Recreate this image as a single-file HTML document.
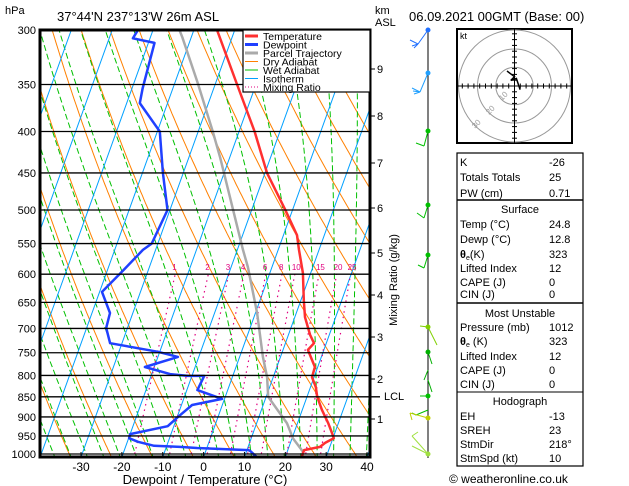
<!DOCTYPE html>
<html><head><meta charset="utf-8"><style>
body{margin:0;background:#fff;}
svg{display:block;font-family:"Liberation Sans",sans-serif;}
text{fill:#000;}
</style></head><body>
<svg id="c" width="629" height="486" viewBox="0 0 629 486" xmlns="http://www.w3.org/2000/svg">
<defs><clipPath id="pc"><rect x="40" y="30" width="330" height="427"/></clipPath>
<clipPath id="hc"><rect x="457" y="29" width="115" height="114"/></clipPath></defs>
<rect width="629" height="486" fill="#fff"/>
<g id="bg" clip-path="url(#pc)"></g>
<g id="series" clip-path="url(#pc)"></g>
<g id="frame"></g>
<text x="5" y="14" font-size="11">hPa</text>
<text x="57" y="21" font-size="13">37°44'N  237°13'W  26m  ASL</text>
<text x="375" y="14" font-size="11">km</text>
<text x="375" y="26" font-size="11">ASL</text>
<text x="409" y="21" font-size="13">06.09.2021  00GMT  (Base: 00)</text>
<text x="205" y="484" font-size="13" text-anchor="middle">Dewpoint / Temperature (°C)</text>
<text transform="translate(397,280) rotate(-90)" font-size="11" text-anchor="middle">Mixing Ratio (g/kg)</text>
<g>
<rect x="243" y="30" width="127" height="62" fill="#fff" stroke="#000" stroke-width="1.2"/>
<line x1="245" y1="36" x2="258" y2="36" stroke="#ff3030" stroke-width="3"/><text x="263" y="40" font-size="10.5">Temperature</text>
<line x1="245" y1="44.5" x2="258" y2="44.5" stroke="#2040ff" stroke-width="3"/><text x="263" y="48.5" font-size="10.5">Dewpoint</text>
<line x1="245" y1="53" x2="258" y2="53" stroke="#aaa" stroke-width="3"/><text x="263" y="57" font-size="10.5">Parcel Trajectory</text>
<line x1="245" y1="61.5" x2="258" y2="61.5" stroke="#ff8000" stroke-width="1"/><text x="263" y="65.5" font-size="10.5">Dry Adiabat</text>
<line x1="245" y1="70" x2="258" y2="70" stroke="#00c000" stroke-width="1"/><text x="263" y="74" font-size="10.5">Wet Adiabat</text>
<line x1="245" y1="78.5" x2="258" y2="78.5" stroke="#00a0ff" stroke-width="1"/><text x="263" y="82.5" font-size="10.5">Isotherm</text>
<line x1="245" y1="87" x2="258" y2="87" stroke="#e0007f" stroke-width="1" stroke-dasharray="1,2"/><text x="263" y="91" font-size="10.5">Mixing Ratio</text>
</g>
<g id="winds"></g>
<g>
<rect x="457" y="29" width="115" height="114" fill="#fff" stroke="#000" stroke-width="2"/>
<g clip-path="url(#hc)" fill="none" stroke="#999">
<circle cx="514.5" cy="86" r="18.7"/><circle cx="514.5" cy="86" r="37"/><circle cx="514.5" cy="86" r="56"/>
</g>
<g id="hticks" stroke="#000" stroke-width="1"></g>
<text x="460" y="39" font-size="9">kt</text>
<text transform="translate(502,101) rotate(-45)" font-size="8" style="fill:#999">10</text>
<text transform="translate(489,115) rotate(-45)" font-size="8" style="fill:#999">20</text>
<text transform="translate(475,129) rotate(-45)" font-size="8" style="fill:#999">30</text>
<polyline id="hodo" fill="none" stroke="#000" stroke-width="1.5" points=""/>
</g>
<g font-size="11">
<rect x="457" y="153" width="126" height="313" fill="none" stroke="#000" stroke-width="1.2"/>
<line x1="457" y1="200" x2="583" y2="200" stroke="#000" stroke-width="1.5"/>
<line x1="457" y1="303" x2="583" y2="303" stroke="#000" stroke-width="1.5"/>
<line x1="457" y1="392" x2="583" y2="392" stroke="#000"/>
<text x="460" y="166">K</text><text x="549" y="166">-26</text>
<text x="460" y="181">Totals Totals</text><text x="549" y="181">25</text>
<text x="460" y="197">PW (cm)</text><text x="549" y="197">0.71</text>
<text x="520" y="213" text-anchor="middle">Surface</text>
<text x="460" y="228">Temp (°C)</text><text x="549" y="228">24.8</text>
<text x="460" y="243">Dewp (°C)</text><text x="549" y="243">12.8</text>
<text x="460" y="258"><tspan font-weight="bold">θ</tspan><tspan font-size="7" dy="2">e</tspan><tspan dy="-2">(K)</tspan></text><text x="549" y="258">323</text>
<text x="460" y="272">Lifted Index</text><text x="549" y="272">12</text>
<text x="460" y="286">CAPE (J)</text><text x="549" y="286">0</text>
<text x="460" y="298">CIN (J)</text><text x="549" y="298">0</text>
<text x="520" y="317" text-anchor="middle">Most Unstable</text>
<text x="460" y="331">Pressure (mb)</text><text x="549" y="331">1012</text>
<text x="460" y="345"><tspan font-weight="bold">θ</tspan><tspan font-size="7" dy="2">e</tspan><tspan dy="-2"> (K)</tspan></text><text x="549" y="345">323</text>
<text x="460" y="360">Lifted Index</text><text x="549" y="360">12</text>
<text x="460" y="374">CAPE (J)</text><text x="549" y="374">0</text>
<text x="460" y="388">CIN (J)</text><text x="549" y="388">0</text>
<text x="520" y="405" text-anchor="middle">Hodograph</text>
<text x="460" y="420">EH</text><text x="549" y="420">-13</text>
<text x="460" y="434">SREH</text><text x="549" y="434">23</text>
<text x="460" y="448">StmDir</text><text x="549" y="448">218°</text>
<text x="460" y="462">StmSpd (kt)</text><text x="549" y="462">10</text>
</g>
<text x="449" y="483" font-size="12">© weatheronline.co.uk</text>
</svg>
<script>
const pressures=[300,350,400,450,500,550,600,650,700,750,800,850,900,950,1000];
const tempTicks=[-30,-20,-10,0,10,20,30,40];
const tempP=[1010,989,980,969,956,942,916,882,850,827,804,781,744,730,713,678,646,598,560,537,499,450,400,349,300];
const tempT=[24,24,27.6,28.5,30.2,29.3,27.5,24.8,22.5,21.3,19.5,19.3,16.1,17,15.3,12.5,10.7,8.1,5.1,3.3,-1.9,-9.5,-16.2,-24.8,-34.3];
const dewP=[1010,991,989,986,983,980,977,966,956,945,924,900,870,855,834,801,801,797,781,759,748,730,699,670,631,596,560,550,500,450,400,369,354,311,307,300];
const dewT=[13.2,10.8,10.3,3.5,-2.4,-6.7,-13.1,-17.4,-19.9,-20,-11.5,-9.8,-7.4,-0.6,-7.4,-7,-11,-15.5,-22.3,-15.1,-20.4,-32.9,-35.2,-35.6,-39.4,-36.3,-33.1,-31.5,-30.6,-35,-39.4,-46.8,-47.4,-48.5,-54.2,-53.7];
const parcelP=[1010,994,956,916,850,804,759,670,588,560,431,401,349,306,300];
const parcelT=[24,23.9,20.2,17.4,10.5,8.5,5.7,0.4,-5.9,-8.6,-22.3,-26.3,-34.3,-42.2,-43.5];
const kmLabels=["9","8","7","6","5","4","3","2","1"];
const kmY=[69,116,163,208,253,295,337,379,419];
const mixRatios=[1,2,3,4,6,8,10,15,20,25];
const hodoU=[-4,0,-2,1,3];
const hodoV=[8,5,3,4,-2];

const NS="http://www.w3.org/2000/svg";
function yP(p){return 454-352*Math.log(1000/p);}
function xT(T,p){return 203.6+4.086*T+0.36*(457-yP(p));}
function mk(tag,attrs,parent){const e=document.createElementNS(NS,tag);for(const k in attrs)e.setAttribute(k,attrs[k]);parent.appendChild(e);return e;}
const bg=document.getElementById('bg'),ser=document.getElementById('series'),fr=document.getElementById('frame');
function pathFrom(ps,fn){return ps.map((p,i)=>(i?'L':'M')+xT(fn(p,i),p).toFixed(1)+','+yP(p).toFixed(1)).join('');}
const plev=[];for(let p=1015;p>=295;p-=5)plev.push(p);
for(let th=240;th<=480;th+=10){const e=mk('path',{d:pathFrom(plev,p=>th*Math.pow(p/1000,0.2857)-273.15),fill:'none',stroke:'#ff8000','stroke-width':1},bg);

}
function es(t){return 6.112*Math.exp(17.67*t/(t+243.5));}
for(let t0=-36;t0<=44;t0+=4){let T=t0+273.15;let p=1015;const d=[];
 while(p>=295){d.push([p,T-273.15]);const e=es(T-273.15),rs=0.622*e/(p-e);
 const dTdp=(1/p)*(287*T+2.5e6*rs)/(1005+2.5e6*2.5e6*rs*0.622/(287*T*T));T-=dTdp*5;p-=5;}
 const e=mk('path',{d:d.map((q,i)=>(i?'L':'M')+xT(q[1],q[0]).toFixed(1)+','+yP(q[0]).toFixed(1)).join(''),fill:'none',stroke:'#00c000','stroke-width':1,'stroke-dasharray':'6,3'},bg);
 
 }
for(let t=-120;t<=50;t+=10){const e=mk('line',{x1:xT(t,1015),y1:yP(1015),x2:xT(t,290),y2:yP(290),stroke:'#00a0ff','stroke-width':1},bg);

}
const mp=[];for(let p=1015;p>=600;p-=5)mp.push(p);
function tdw(w,p){const e=w*p/(622+w);const l=Math.log(e/6.112);return 243.5*l/(17.67-l);}
mixRatios.forEach(w=>{const e=mk('path',{d:pathFrom(mp,p=>tdw(w,p)),fill:'none',stroke:'#e0007f','stroke-width':1.2,'stroke-dasharray':'1.5,4'},bg);


const t=mk('text',{x:xT(tdw(w,600),600)-3,y:270,'font-size':8,style:'fill:#e0007f'},fr);t.textContent=w;

});
pressures.forEach(p=>{const l=mk('line',{x1:40,y1:yP(p),x2:p==850?380:370,y2:yP(p),stroke:'#000','stroke-width':1.3},fr);


const t=mk('text',{x:36,y:yP(p)+4,'font-size':11,'text-anchor':'end'},fr);t.textContent=p;

});
tempTicks.forEach(T=>{const x=203.6+4.086*T;const t=mk('text',{x:x,y:471,'font-size':12,'text-anchor':'middle'},fr);t.textContent=T;


mk('line',{x1:x,y1:452,x2:x,y2:457,stroke:'#000'},fr);});
function series(P,T,color,w,name){const e=mk('path',{d:pathFrom(P,(p,i)=>T[i]),fill:'none',stroke:color,'stroke-width':w,'stroke-linejoin':'round'},ser);

}
series(parcelP,parcelT,'#aaa',2.5,'parcel-trajectory');
series(dewP,dewT,'#2040ff',2.5,'dewpoint-line');
series(tempP,tempT,'#ff3030',2.5,'temperature-line');
mk('rect',{x:40,y:30,width:330,height:427,fill:'none',stroke:'#000','stroke-width':3},fr);
kmLabels.forEach((k,i)=>{mk('line',{x1:370,y1:kmY[i],x2:375,y2:kmY[i],stroke:'#000'},fr);
const t=mk('text',{x:377,y:kmY[i]+4,'font-size':11},fr);t.textContent=k;

});
const lcl=mk('text',{x:384,y:400,'font-size':11},fr);lcl.textContent='LCL';


const wg=document.getElementById('winds');
mk('line',{x1:428,y1:30,x2:428,y2:458,stroke:'#000','stroke-width':1},wg);
const barbs=[[30,'#2070ff',[[428,30,418,44],[418,44,410,40],[418,44,412,46],[418,44,414,48]]],[73,'#20a0ff',[[428,73,420,92],[420,92,412,88],[420,92,413,91],[420,92,414,94]]],[131,'#00c000',[[428,131,424,146],[424,146,416,143]]],[205,'#00c000',[[428,205,424,218],[424,218,417,213]]],[255,'#00c000',[[428,255,424,268],[424,268,418,265]]],[327,'#80d000',[[428,327,420,326],[428,327,437,345]]],[352,'#00b000',[[428,352,432,364],[428,370,424,380],[428,380,432,392]]],[396,'#00c000',[[428,396,420,396],[428,410,416,415],[416,415,412,413]]],[418,'#c0d000',[[428,418,410,413],[410,413,412,420]]],[454,'#a0e040',[[428,454,412,436],[412,436,418,432],[428,454,412,446]]]];
barbs.forEach(b=>{const g=mk('g',{stroke:b[1],'stroke-width':1,fill:b[1]},wg);


mk('circle',{cx:428,cy:b[0],r:2},g);b[2].forEach(s=>mk('line',{x1:s[0],y1:s[1],x2:s[2],y2:s[3]},g));});
const ht=document.getElementById('hticks');
mk('line',{x1:457,y1:86,x2:572,y2:86},ht);mk('line',{x1:514.5,y1:29,x2:514.5,y2:143},ht);
for(let k=-9;k<=9;k++){if(!k)continue;const d=k*5.8;mk('line',{x1:514.5+d,y1:83.5,x2:514.5+d,y2:88.5},ht);mk('line',{x1:512,y1:86+d,x2:517,y2:86+d},ht);}
document.getElementById('hodo').setAttribute('points',hodoU.map((u,i)=>(514.5+u*1.87).toFixed(1)+','+(86-hodoV[i]*1.87).toFixed(1)).join(' '));
</script>
</body></html>
